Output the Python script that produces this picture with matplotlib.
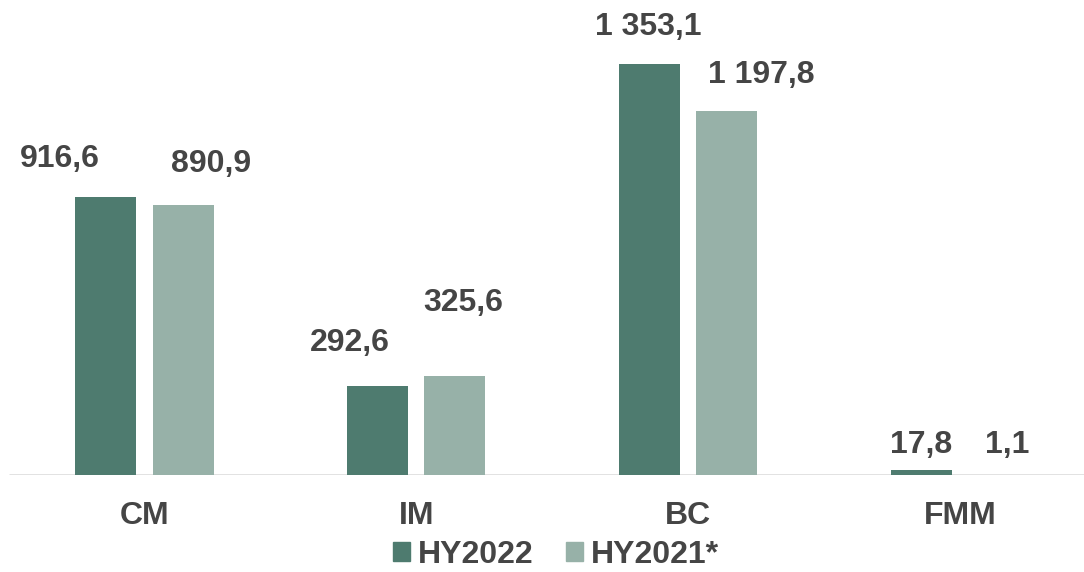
import matplotlib
matplotlib.use('Agg')
import matplotlib.pyplot as plt
from matplotlib.patches import Patch
import numpy as np

plt.rcParams['font.family'] = ['Liberation Sans', 'DejaVu Sans']
plt.rcParams['font.weight'] = 'bold'

# segments and half-year values
categories = ['CM', 'IM', 'BC', 'FMM']
hy2022 = [916.6, 292.6, 1353.1, 17.8]
hy2021 = [890.9, 325.6, 1197.8, 1.1]
series_names = ['HY2022', 'HY2021*']

dark = '#4E7B6F'
light = '#97B1A8'
text_col = '#454545'

def fmt(v):
    # space as thousands separator, comma as decimal mark
    s = '{:,.1f}'.format(v)
    return s.replace(',', ' ').replace('.', ',')

fig = plt.figure(figsize=(10.84, 5.72), dpi=100)
ax = fig.add_axes([0, 0.1696, 1, 0.8304])

x = np.arange(len(categories))
w = 0.2244
off = 0.1417
b1 = ax.bar(x - off, hy2022, w, color=dark, zorder=3)
b2 = ax.bar(x + off, hy2021, w, color=light, zorder=3)

ax.hlines(0, -0.5, 3.6, color='#D9D9D9', lw=1.8, zorder=2)

# label offsets in pixels (dx, baseline above bar top)
lab_off_22 = [(-46, 30), (-28, 35), (-1, 29), (0, 17)]
lab_off_21 = [(28, 33), (8, 65), (35, 28), (9, 22)]

for bars, vals, offs in [(b1, hy2022, lab_off_22), (b2, hy2021, lab_off_21)]:
    for b, v, (dx, dy) in zip(bars, vals, offs):
        ax.annotate(fmt(v), xy=(b.get_x() + b.get_width() / 2, v),
                    xytext=(dx, dy), textcoords='offset pixels',
                    ha='center', va='baseline', fontsize=23,
                    fontweight='bold', color=text_col)

ax.set_xlim(-0.5316, 3.4566)
ax.set_ylim(0, 1565)
ax.set_xticks(x)
ax.set_xticklabels(categories, fontsize=23, fontweight='bold', color=text_col)
ax.tick_params(axis='x', length=0, pad=19)
ax.set_yticks([])
for sp in ax.spines.values():
    sp.set_visible(False)

handles = [Patch(color=dark), Patch(color=light)]
fig.legend(handles, series_names, loc='center', bbox_to_anchor=(0.513, 0.03),
           ncol=2, frameon=False, handlelength=0.55, borderpad=0.2,
           handleheight=0.55, handletextpad=0.25, columnspacing=1.0,
           labelcolor=text_col, prop={'weight': 'bold', 'size': 23})

fig.savefig('out.png', dpi=100)
